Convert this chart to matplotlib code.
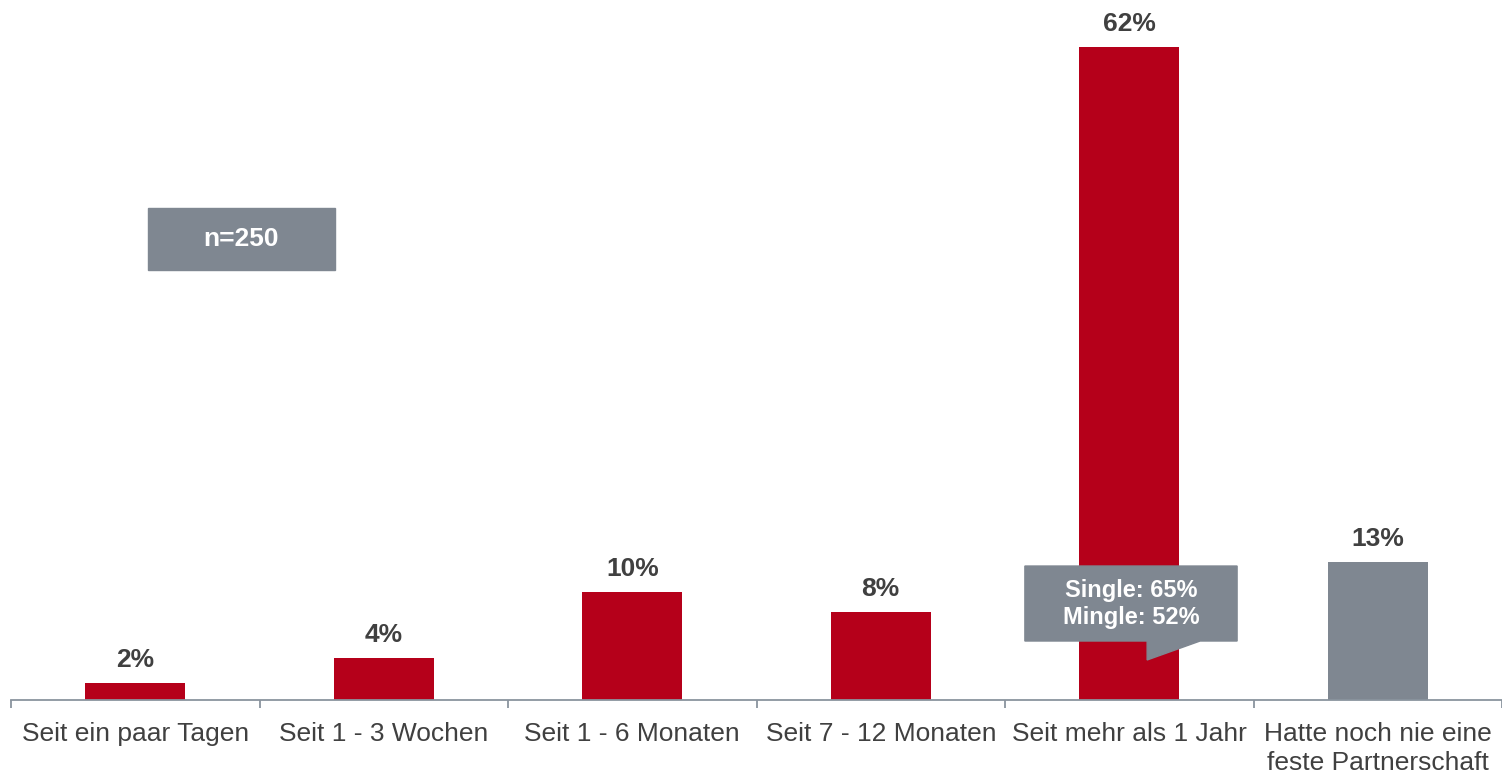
import matplotlib
matplotlib.use("Agg")
import matplotlib.pyplot as plt
from matplotlib.patches import Polygon, Rectangle

categories = ["Seit ein paar Tagen", "Seit 1 - 3 Wochen", "Seit 1 - 6 Monaten",
              "Seit 7 - 12 Monaten", "Seit mehr als 1 Jahr",
              "Hatte noch nie eine\nfeste Partnerschaft"]
values = [1.6, 4.0, 10.3, 8.4, 62.0, 13.1]
bar_labels = ["2%", "4%", "10%", "8%", "62%", "13%"]
bar_colors = ["#B5001A", "#B5001A", "#B5001A", "#B5001A", "#B5001A", "#7F8791"]
sample_note = "n=250"
callout_text = "Single: 65%\nMingle: 52%"

RED = "#B5001A"
GRAY = "#7F8791"
TXT = "#404040"
AXC = "#8A949E"
FONT = "Liberation Sans"

W, H = 1502, 774
fig = plt.figure(figsize=(W / 100, H / 100), dpi=100)
left_px, right_px, base_px = 11, 1502, 700
ax = fig.add_axes([left_px / W, (H - base_px) / H, (right_px - left_px) / W, base_px / H])

x = list(range(len(categories)))
ax.bar(x, values, width=0.402, color=bar_colors, zorder=2)
ax.set_xlim(-0.5, len(categories) - 0.5)
ax.set_ylim(0, 66.46)

for xi, v, lab in zip(x, values, bar_labels):
    ax.annotate(lab, (xi, v), xytext=(0, 11.5), textcoords="offset points",
                ha="center", va="baseline", fontsize=19, fontweight="bold",
                color=TXT, family=FONT)

for s in ["top", "right", "left"]:
    ax.spines[s].set_visible(False)
ax.spines["bottom"].set_color(AXC)
ax.spines["bottom"].set_linewidth(1.3)
ax.set_yticks([])

ax.set_xticks([i - 0.5 for i in range(len(categories) + 1)])
ax.set_xticklabels([])
ax.tick_params(axis="x", which="major", length=5.8, width=1.3, color=AXC, direction="out")
ax.set_xticks(x, minor=True)
ax.set_xticklabels(categories, minor=True, fontsize=19, color=TXT, family=FONT,
                   linespacing=1.25)
ax.tick_params(axis="x", which="minor", length=0, pad=16)

# n=250 box
ax.add_patch(Rectangle((0.051, 40.83), 0.753, 5.89, color=GRAY, zorder=3, clip_on=False))
ax.text(0.4275, 43.78, sample_note, ha="center", va="center", fontsize=19,
        fontweight="bold", color="white", family=FONT, zorder=4)

# callout on the 5th bar
cx = 4
poly = [(cx - 0.420, 12.72), (cx + 0.434, 12.72), (cx + 0.434, 5.60),
        (cx + 0.285, 5.60), (cx + 0.072, 3.80), (cx + 0.072, 5.60),
        (cx - 0.420, 5.60)]
ax.add_patch(Polygon(poly, closed=True, color=GRAY, zorder=3))
ax.text(cx + 0.007, 9.1, callout_text, ha="center", va="center", fontsize=17,
        fontweight="bold", color="white", family=FONT, zorder=4, linespacing=1.2)

fig.savefig("out.png", dpi=100)
